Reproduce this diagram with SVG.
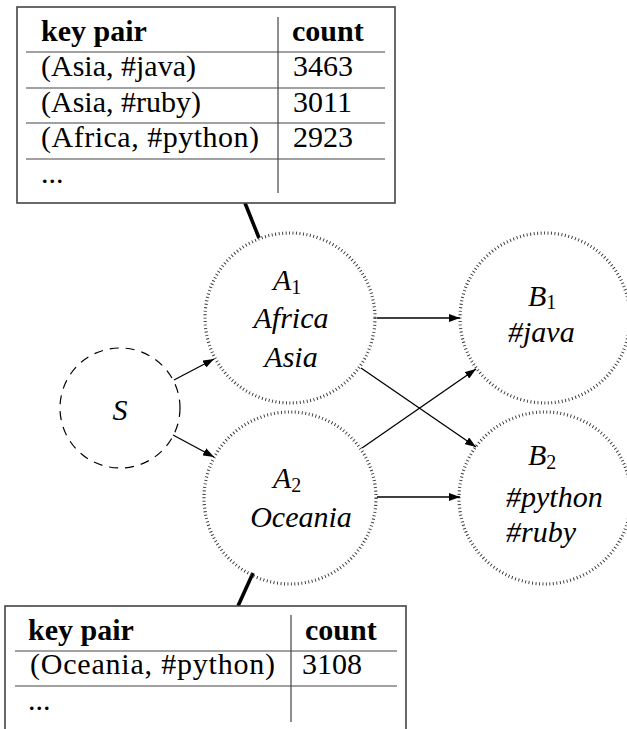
<svg xmlns="http://www.w3.org/2000/svg" width="627" height="729" viewBox="0 0 627 729">
  <style>
    text { font-family: "Liberation Serif", "Times New Roman", Times, Tinos, "Noto Serif", "DejaVu Serif", FreeSerif, serif; fill: #000; }
    .cell { font-size: 30px; }
    .head { font-size: 30px; font-weight: bold; }
    .lbl { font-size: 30px; font-style: italic; }
    .sub { font-size: 20px; font-style: normal; }
    .box { fill: #fff; stroke: #444; stroke-width: 1.6; }
    .rule { stroke: #444; stroke-width: 1.2; fill: none; }
    .dotted { fill: none; stroke: #333; stroke-width: 3.2; stroke-dasharray: 0.9 2.6; }
    .dashed { fill: none; stroke: #000; stroke-width: 1.2; stroke-dasharray: 9 7; }
    .edge { stroke: #000; stroke-width: 1.3; fill: none; marker-end: url(#head); }
    .tie { stroke: #000; stroke-width: 3.6; stroke-linecap: butt; }
  </style>
  <defs>
    <marker id="head" markerUnits="userSpaceOnUse" markerWidth="11" markerHeight="8" refX="11" refY="4" orient="auto">
      <path d="M0,0 L11,4 L0,8 z" fill="#000"/>
    </marker>
  </defs>

  <!-- links from tables to their nodes -->
  <g id="ties">
    <line class="tie" x1="245" y1="203" x2="259" y2="238"/>
    <line class="tie" x1="253" y1="573" x2="238" y2="606"/>
  </g>

  <!-- table for A1 -->
  <g id="table-a1">
    <rect class="box" x="17" y="7" width="378" height="196"/>
    <line class="rule" x1="278" y1="17" x2="278" y2="193"/>
    <line class="rule" x1="26" y1="52" x2="385" y2="52"/>
    <line class="rule" x1="26" y1="88" x2="385" y2="88"/>
    <line class="rule" x1="26" y1="123" x2="385" y2="123"/>
    <line class="rule" x1="26" y1="159" x2="385" y2="159"/>
    <text class="head" x="41" y="41">key pair</text>
    <text class="head" x="292" y="41">count</text>
    <text class="cell" x="41" y="76">(Asia, #java)</text>
    <text class="cell" x="293" y="76">3463</text>
    <text class="cell" x="41" y="112">(Asia, #ruby)</text>
    <text class="cell" x="293" y="112">3011</text>
    <text class="cell" x="41" y="147" textLength="218">(Africa, #python)</text>
    <text class="cell" x="293" y="147">2923</text>
    <text class="cell" x="41" y="183">...</text>
  </g>

  <!-- table for A2 -->
  <g id="table-a2">
    <rect class="box" x="5" y="606" width="401" height="140"/>
    <line class="rule" x1="291" y1="615" x2="291" y2="722"/>
    <line class="rule" x1="15" y1="651" x2="397" y2="651"/>
    <line class="rule" x1="15" y1="686" x2="397" y2="686"/>
    <text class="head" x="28" y="640">key pair</text>
    <text class="head" x="305" y="640">count</text>
    <text class="cell" x="30" y="674" textLength="245">(Oceania, #python)</text>
    <text class="cell" x="302" y="674">3108</text>
    <text class="cell" x="28" y="710">...</text>
  </g>

  <!-- nodes -->
  <g id="node-s">
    <circle class="dashed" cx="120" cy="408" r="60"/>
    <text class="lbl" x="120" y="420" text-anchor="middle">S</text>
  </g>
  <g id="node-a1">
    <circle class="dotted" cx="290" cy="318" r="85"/>
    <text class="lbl" x="273" y="290">A<tspan class="sub" dy="4">1</tspan></text>
    <text class="lbl" x="291" y="328" text-anchor="middle">Africa</text>
    <text class="lbl" x="291" y="367" text-anchor="middle">Asia</text>
  </g>
  <g id="node-a2">
    <circle class="dotted" cx="290" cy="498" r="86"/>
    <text class="lbl" x="273" y="488">A<tspan class="sub" dy="4">2</tspan></text>
    <text class="lbl" x="301" y="527" text-anchor="middle">Oceania</text>
  </g>
  <g id="node-b1">
    <circle class="dotted" cx="545" cy="318" r="85"/>
    <text class="lbl" x="528" y="306">B<tspan class="sub" dy="3">1</tspan></text>
    <text class="lbl" x="508" y="342">#java</text>
  </g>
  <g id="node-b2">
    <circle class="dotted" cx="545" cy="498" r="86"/>
    <text class="lbl" x="528" y="465">B<tspan class="sub" dy="4">2</tspan></text>
    <text class="lbl" x="506" y="507">#python</text>
    <text class="lbl" x="506" y="542">#ruby</text>
  </g>

  <!-- connectors -->
  <g id="edges">
    <line class="edge" x1="174" y1="380" x2="214" y2="359"/>
    <line class="edge" x1="173" y1="435" x2="214" y2="457"/>
    <line class="edge" x1="377" y1="318" x2="460" y2="318"/>
    <line class="edge" x1="361" y1="368" x2="476" y2="447"/>
    <line class="edge" x1="362" y1="448" x2="476" y2="369"/>
    <line class="edge" x1="377" y1="497" x2="460" y2="497"/>
  </g>
</svg>
